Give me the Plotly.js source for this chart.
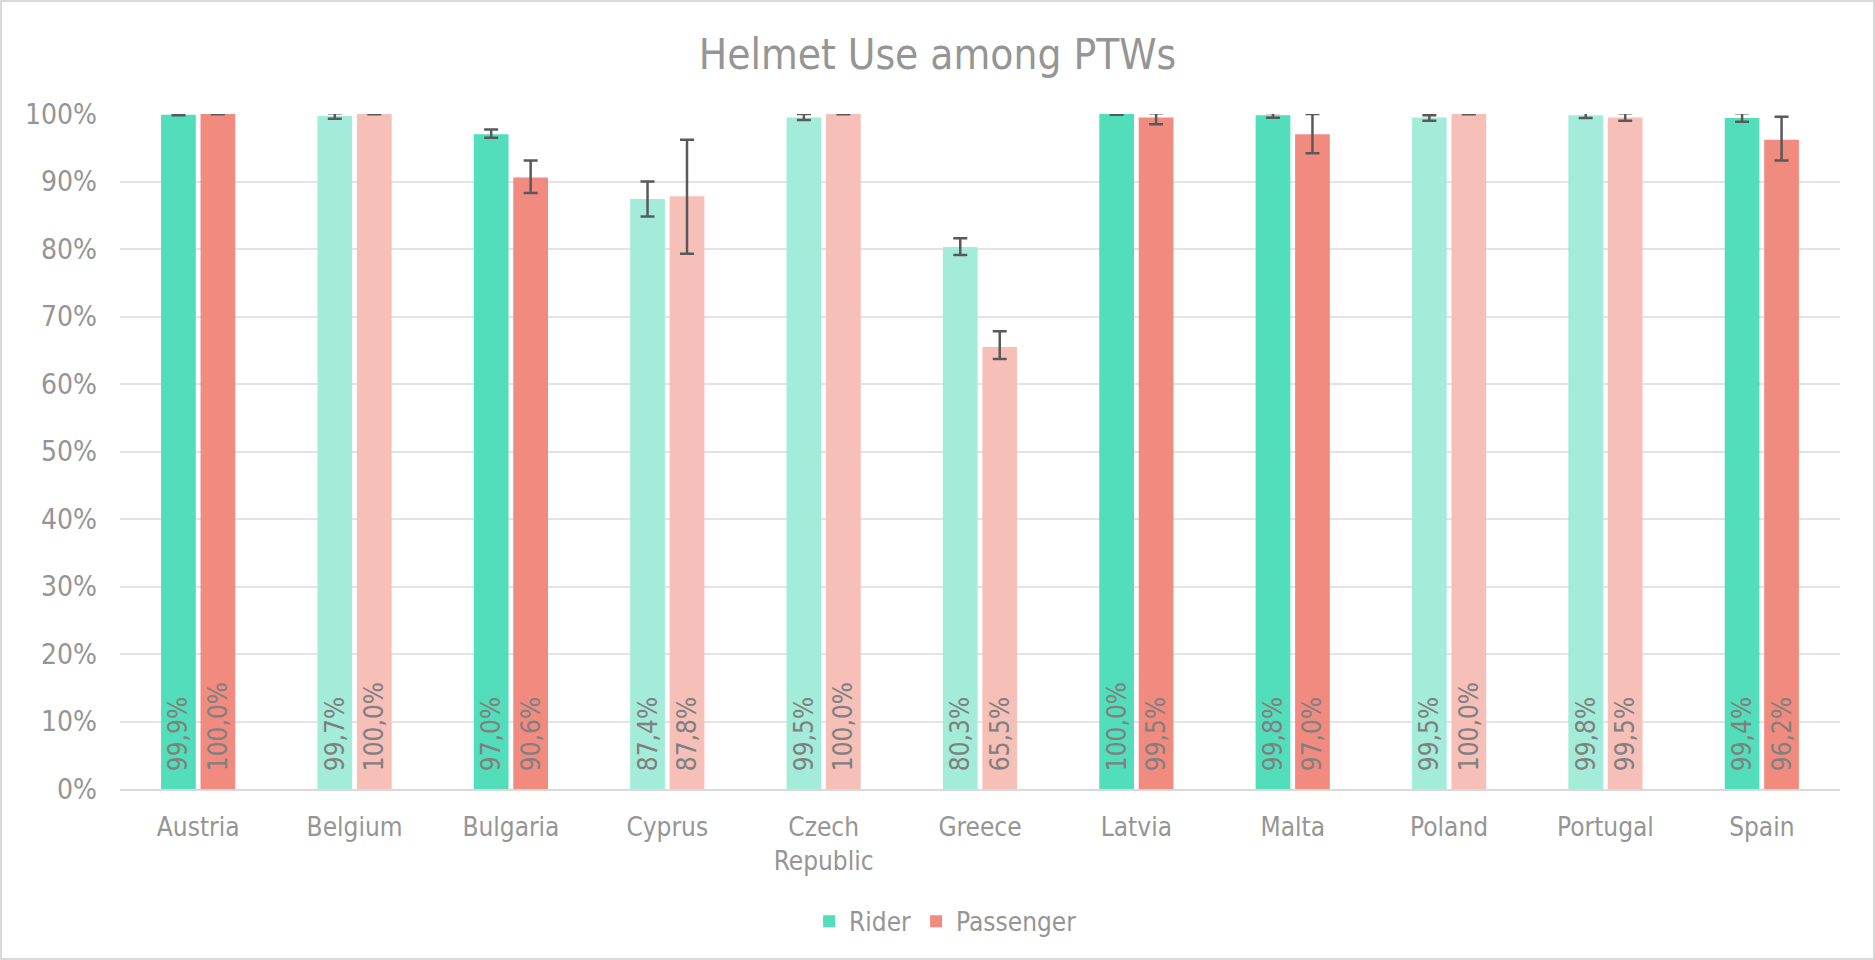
<!DOCTYPE html>
<html>
<head>
<meta charset="utf-8">
<script src="https://cdn.plot.ly/plotly-3.0.1.min.js"></script>
<style>
  html, body { margin: 0; padding: 0; background: #ffffff; }
  #chart { width: 1871px; height: 956px; border: 2px solid #d9d9d9; }
</style>
</head>
<body>
<div id="chart"></div>
<script>
// Countries (x categories)
const countries = ['Austria', 'Belgium', 'Bulgaria', 'Cyprus', 'Czech<br>Republic', 'Greece',
                   'Latvia', 'Malta', 'Poland', 'Portugal', 'Spain'];

// Helmet use (%)
const riderValues     = [99.9, 99.7, 97.0, 87.4, 99.5, 80.3, 100.0, 99.8, 99.5, 99.8, 99.4];
const passengerValues = [100.0, 100.0, 90.6, 87.8, 100.0, 65.5, 99.5, 97.0, 100.0, 99.5, 96.2];

// Confidence intervals (upper / lower distance, %)
const riderErrPlus      = [0.1, 0.4, 0.7, 2.6, 0.5, 1.3, 0.1, 0.35, 0.3, 0.4, 0.7];
const riderErrMinus     = [0.1, 0.4, 0.5, 2.6, 0.4, 1.2, 0.1, 0.35, 0.5, 0.4, 0.55];
const passengerErrPlus  = [0.05, 0.05, 2.5, 8.4, 0.05, 2.3, 0.6, 3.0, 0.05, 0.6, 3.4];
const passengerErrMinus = [0.05, 0.05, 2.3, 8.5, 0.05, 1.8, 1.0, 2.8, 0.05, 0.5, 3.1];

// Which countries are drawn in full colour (others are faded)
const solidCountry = [true, false, true, false, false, false, true, true, false, false, true];

const RIDER_SOLID = '#52DEBA';
const RIDER_LIGHT = '#A4ECDA';
const PASS_SOLID = '#F18B7F';
const PASS_LIGHT = '#F6BFB8';
const FONT = '"DejaVu Sans Condensed", "DejaVu Sans", sans-serif';
const TEXT_GREY = '#959595';

// two no-break spaces lift the label off the bar base, like the original
const fmt = v => '\u00A0\u00A0' + v.toFixed(1).replace('.', ',') + '%';

function barTrace(name, values, plus, minus, solid, light) {
    return {
        type: 'bar',
        name: name,
        x: countries,
        y: values,
        text: values.map(fmt),
        textposition: 'inside',
        insidetextanchor: 'start',
        textangle: -90,
        constraintext: 'none',
        insidetextfont: { family: FONT, size: 26, color: '#808080' },
        cliponaxis: false,
        hoverinfo: 'x+y+name',
        marker: { color: solidCountry.map(s => s ? solid : light) },
        error_y: {
            type: 'data',
            symmetric: false,
            array: plus,
            arrayminus: minus,
            color: '#595959',
            thickness: 2.5,
            width: 7
        }
    };
}

const data = [
    barTrace('Rider', riderValues, riderErrPlus, riderErrMinus, RIDER_SOLID, RIDER_LIGHT),
    barTrace('Passenger', passengerValues, passengerErrPlus, passengerErrMinus, PASS_SOLID, PASS_LIGHT)
];

const layout = {
    width: 1871,
    height: 956,
    paper_bgcolor: '#ffffff',
    plot_bgcolor: '#ffffff',
    font: { family: FONT, color: TEXT_GREY, size: 26 },
    margin: { l: 118, r: 33, t: 112, b: 169, pad: 0 },
    title: {
        text: 'Helmet Use among PTWs',
        font: { family: FONT, size: 42, color: TEXT_GREY },
        x: 0.5, xanchor: 'center',
        y: 1 - 52 / 956, yanchor: 'middle', yref: 'container'
    },
    barmode: 'group',
    bargap: 0.495,
    bargroupgap: 0.12,
    xaxis: {
        type: 'category',
        showgrid: false,
        showline: true,
        linecolor: '#d9d9d9',
        linewidth: 2,
        ticks: '',
        ticklabelstandoff: 14,
        tickfont: { family: FONT, size: 26, color: TEXT_GREY },
        fixedrange: true
    },
    yaxis: {
        range: [0, 100],
        dtick: 10,
        ticksuffix: '%',
        showgrid: true,
        gridcolor: '#e3e3e3',
        gridwidth: 2,
        zeroline: false,
        showline: false,
        ticks: '',
        ticklabelstandoff: 22,
        tickfont: { family: FONT, size: 28, color: TEXT_GREY },
        fixedrange: true
    },
    showlegend: true,
    legend: {
        orientation: 'h',
        x: 0.48, xanchor: 'center',
        y: -0.196, yanchor: 'middle',
        font: { family: FONT, size: 26, color: TEXT_GREY },
        itemwidth: 30
    }
};

Plotly.newPlot('chart', data, layout, { displayModeBar: false, responsive: false });
</script>
</body>
</html>
